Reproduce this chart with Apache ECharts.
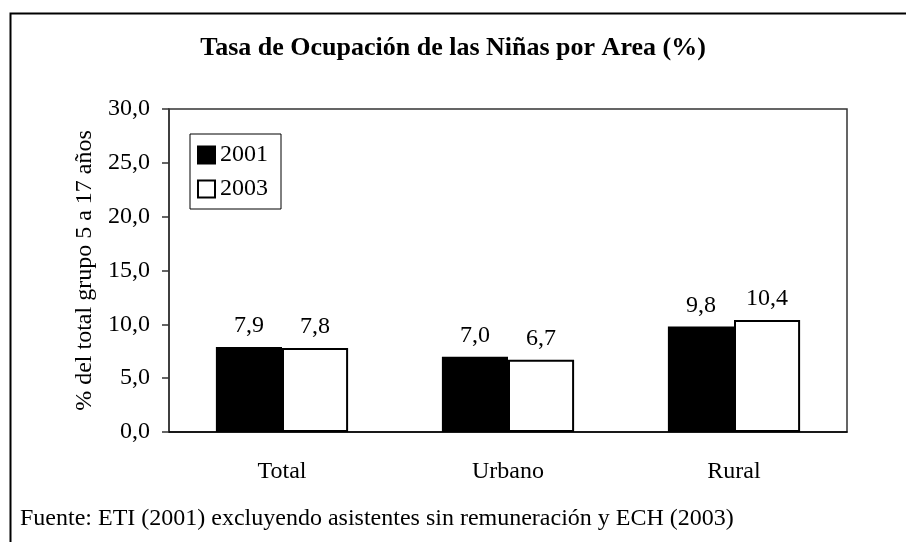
<!DOCTYPE html>
<html>
<head>
<meta charset="utf-8">
<script src="https://cdn.jsdelivr.net/npm/echarts@6/dist/echarts.min.js"></script>
<style>
  html, body { margin: 0; padding: 0; background: #fff; }
  #chart { width: 906px; height: 542px; }
</style>
</head>
<body>
<div id="chart"></div>
<script>
// datos
const areas = ['Total', 'Urbano', 'Rural'];
const anios = ['2001', '2003'];
const valores2001 = [7.9, 7.0, 9.8];
const valores2003 = [7.8, 6.7, 10.4];

const serif = 'Liberation Serif, Times New Roman, serif';
const coma = v => v.toFixed(1).replace('.', ',');

let myChart = echarts.init(document.getElementById('chart'));

let options = {
  animation: false,
  backgroundColor: '#fff',
  title: {
    text: 'Tasa de Ocupación de las Niñas por Area (%)',
    left: 'center',
    top: 30,
    textStyle: { fontFamily: serif, fontSize: 26, fontWeight: 'bold', color: '#000' }
  },
  graphic: [
    // marco exterior
    {
      type: 'rect', left: 8, top: 11,
      shape: { width: 1000, height: 1000 },
      style: { fill: 'none', stroke: '#000', lineWidth: 2 },
      silent: true
    },
    {
      type: 'text', left: 20, top: 507,
      style: {
        text: 'Fuente: ETI (2001) excluyendo asistentes sin remuneración y ECH (2003)',
        font: '24px ' + serif, fill: '#000'
      }
    }
  ],
  legend: {
    data: anios,
    orient: 'vertical',
    left: 190,
    top: 134,
    padding: [9, 13, 8, 7],
    itemGap: 10,
    itemWidth: 17,
    itemHeight: 17,
    icon: 'rect',
    borderColor: '#000',
    borderWidth: 1,
    textStyle: { fontFamily: serif, fontSize: 24, color: '#000' }
  },
  grid: {
    left: 169,
    right: 59,
    top: 109,
    bottom: 110,
    show: true,
    borderColor: '#333',
    borderWidth: 1.5
  },
  xAxis: {
    type: 'category',
    data: areas,
    axisLine: { lineStyle: { color: '#000', width: 1.5 } },
    axisTick: { length: 7, lineStyle: { color: '#333', width: 1.5 } },
    axisLabel: { fontFamily: serif, fontSize: 24, color: '#000', margin: 28 }
  },
  yAxis: {
    type: 'value',
    min: 0,
    max: 30,
    interval: 5,
    name: '% del total grupo 5 a 17 años',
    nameLocation: 'middle',
    nameGap: 44,
    nameTextStyle: { fontFamily: serif, fontSize: 24, color: '#000' },
    axisLine: { show: true, lineStyle: { color: '#333', width: 1.5 } },
    axisTick: { show: true, length: 7, lineStyle: { color: '#333', width: 1.5 } },
    splitLine: { show: false },
    axisLabel: { fontFamily: serif, fontSize: 24, color: '#000', margin: 19, formatter: v => coma(v) }
  },
  series: [
    {
      name: anios[0],
      type: 'bar',
      data: valores2001,
      barGap: '0%',
      barCategoryGap: '41.5%',
      itemStyle: { color: '#000', borderColor: '#000', borderWidth: 1.5 },
      label: { show: true, position: 'top', distance: 9, fontFamily: serif, fontSize: 24, color: '#000', formatter: p => coma(p.value) }
    },
    {
      name: anios[1],
      type: 'bar',
      data: valores2003,
      itemStyle: { color: '#fff', borderColor: '#000', borderWidth: 2 },
      label: { show: true, position: 'top', distance: 9, fontFamily: serif, fontSize: 24, color: '#000', formatter: p => coma(p.value) }
    }
  ]
};

myChart.setOption(options);
</script>
</body>
</html>
